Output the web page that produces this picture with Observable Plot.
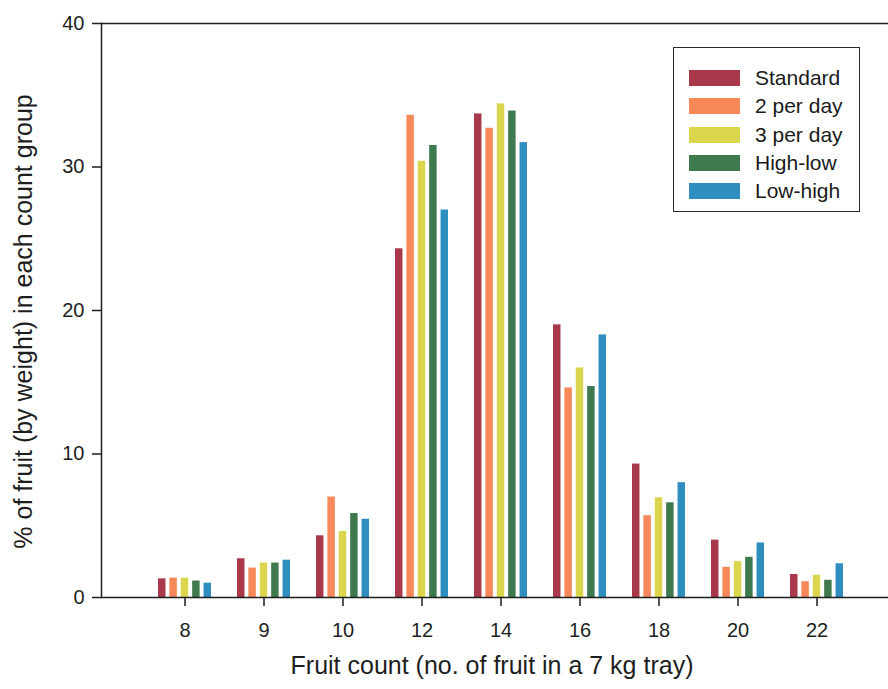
<!DOCTYPE html>
<html>
<head>
<meta charset="utf-8">
<script src="https://cdn.jsdelivr.net/npm/d3@7"></script>
<script src="https://cdn.jsdelivr.net/npm/@observablehq/plot@0.6"></script>
<style>
  html, body { margin: 0; padding: 0; background: #fff; }
  #wrap { position: relative; width: 888px; height: 689px; overflow: hidden; font-family: "Liberation Sans", Arial, sans-serif; }
  #legend { position: absolute; left: 673px; top: 47px; width: 187px; height: 165px; border: 1.5px solid #2a2a2a; box-sizing: border-box; background: #fff; }
  .row { position: absolute; left: 15px; height: 16px; }
  .sw { position: absolute; left: 0; top: 0; width: 51px; height: 16px; }
  .lab { position: absolute; left: 66px; top: -4px; font-size: 21px; line-height: 24px; color: #1a1a1a; white-space: nowrap; }
</style>
</head>
<body>
<div id="wrap"><div id="chart"></div><div id="legend"></div></div>
<script>
const counts = ["8", "9", "10", "12", "14", "16", "18", "20", "22"];
const seriesNames = ["Standard", "2 per day", "3 per day", "High-low", "Low-high"];
const seriesColors = ["#a8384a", "#f6885a", "#dbd64e", "#3e7a4e", "#2f8ec0"];
const standard = [1.3, 2.7, 4.3, 24.3, 33.7, 19.0, 9.3, 4.0, 1.6];
const perDay2  = [1.35, 2.05, 7.0, 33.6, 32.7, 14.6, 5.7, 2.1, 1.1];
const perDay3  = [1.35, 2.4, 4.6, 30.4, 34.4, 16.0, 6.95, 2.5, 1.55];
const highLow  = [1.15, 2.4, 5.85, 31.5, 33.9, 14.7, 6.6, 2.8, 1.2];
const lowHigh  = [1.0, 2.6, 5.45, 27.0, 31.7, 18.3, 8.0, 3.8, 2.35];
const yTicks = [0, 10, 20, 30, 40];
const xTitle = "Fruit count (no. of fruit in a 7 kg tray)";
const yTitle = "% of fruit (by weight) in each count group";

const seriesValues = [standard, perDay2, perDay3, highLow, lowHigh];

// layout of the band scale
const xRange = [101, 900];
const padIn = 0.33, padOut = 0.7;
const step = (xRange[1] - xRange[0]) / (counts.length - padIn + 2 * padOut);
const bw = step * (1 - padIn);
const subPad = 0.33;
const sub = bw / (seriesNames.length - subPad);
const barW = sub * (1 - subPad);

const ink = "#1e1e1e";

const barMarks = seriesValues.map((vals, k) =>
  Plot.barY(vals.map((v, i) => ({count: counts[i], value: v, series: seriesNames[k]})), {
    x: "count", y: "value", fill: seriesColors[k],
    insetLeft: k * sub, insetRight: bw - k * sub - barW
  })
);

const chart = Plot.plot({
  width: 888, height: 689,
  marginLeft: 101, marginRight: 0, marginTop: 23, marginBottom: 92,
  style: {fontFamily: "'Liberation Sans', Arial, sans-serif", color: ink, background: "#fff"},
  x: {domain: counts, range: xRange, paddingInner: padIn, paddingOuter: padOut},
  y: {domain: [0, 40]},
  marks: [
    ...barMarks,
    Plot.ruleY([0, 40], {stroke: ink, strokeWidth: 1.5}),
    Plot.frame({anchor: "left", stroke: ink, strokeWidth: 1.5}),
    Plot.axisY({ticks: yTicks, tickSize: 9, tickPadding: 8, fontSize: 20, label: null, strokeWidth: 1.5}),
    Plot.axisX({tickSize: 9, tickPadding: 16, fontSize: 20, label: null, strokeWidth: 1.5}),
    Plot.text([xTitle], {frameAnchor: "bottom", text: d => d, dx: -3, dy: 68, fontSize: 25, textAnchor: "middle", lineAnchor: "middle"}),
    Plot.text([yTitle], {frameAnchor: "left", text: d => d, rotate: -90, dx: -78, dy: 11, fontSize: 25, textAnchor: "middle", lineAnchor: "middle"})
  ]
});
document.getElementById("chart").appendChild(chart);

const legend = document.getElementById("legend");
seriesNames.forEach((name, k) => {
  const row = document.createElement("div");
  row.className = "row";
  row.style.top = (22 + k * 28.3) + "px";
  row.innerHTML = `<div class="sw" style="background:${seriesColors[k]}"></div><div class="lab">${name}</div>`;
  legend.appendChild(row);
});
</script>
</body>
</html>
